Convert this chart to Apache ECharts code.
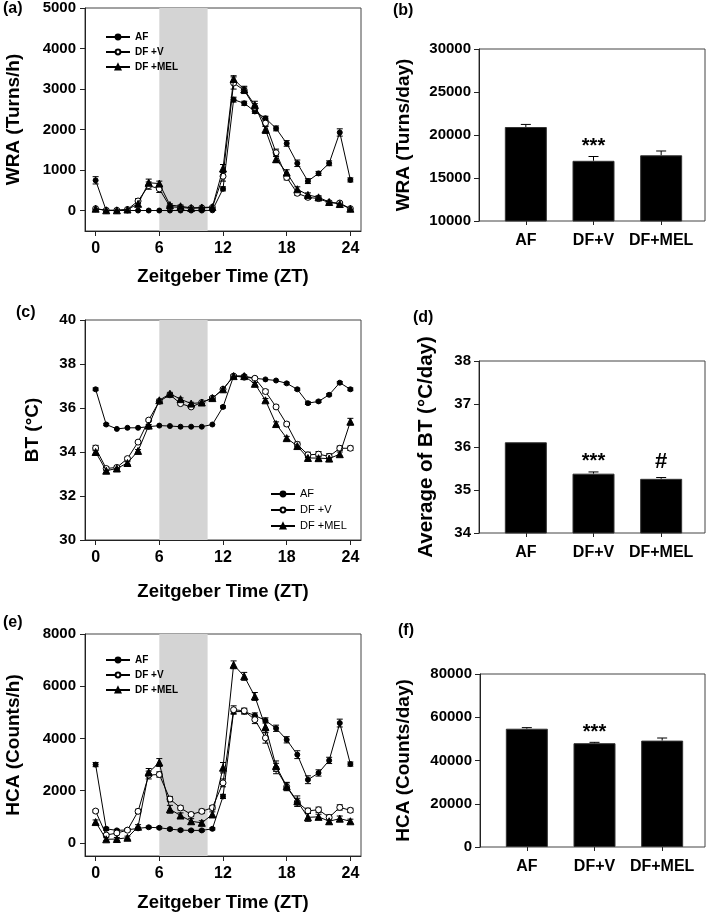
<!DOCTYPE html>
<html><head><meta charset="utf-8">
<script src="https://cdn.jsdelivr.net/npm/echarts@6.0.0/dist/echarts.min.js"></script>
<style>html,body{margin:0;padding:0;background:#fff}#c{width:709px;height:914px}</style>
</head><body><div id="c"></div>
<script>
// ---------- data ----------
const zt = [0,1,2,3,4,5,6,7,8,9,10,11,12,13,14,15,16,17,18,19,20,21,22,23,24];
const seriesNames = ['AF', 'DF +V', 'DF +MEL'];
const groups = ['AF', 'DF+V', 'DF+MEL'];

const wraAF  = [750, 5, 5, 5, 5, 5, 5, 5, 5, 5, 5, 10, 540, 2740, 2650, 2450, 2280, 2030, 1660, 1170, 730, 920, 1170, 1930, 760];
const wraDFV = [50, 10, 10, 30, 240, 620, 540, 100, 80, 60, 70, 80, 850, 3150, 2970, 2550, 2160, 1430, 820, 430, 330, 300, 200, 190, 50];
const wraMEL = [50, 10, 10, 30, 170, 690, 670, 140, 110, 70, 80, 90, 1040, 3250, 2990, 2600, 2000, 1270, 940, 530, 390, 330, 215, 165, 50];
const wraAFErr  = [90, 0, 0, 0, 0, 0, 0, 0, 0, 0, 0, 0, 50, 60, 50, 50, 50, 60, 70, 80, 60, 50, 60, 90, 50];
const wraDFVErr = [0, 0, 0, 0, 60, 90, 90, 30, 30, 20, 20, 20, 120, 150, 80, 90, 80, 90, 60, 50, 50, 40, 30, 30, 20];
const wraMELErr = [0, 0, 0, 0, 60, 90, 60, 30, 30, 20, 20, 20, 100, 80, 80, 100, 90, 80, 70, 60, 50, 40, 30, 30, 20];

const btAF  = [36.85, 35.25, 35.05, 35.1, 35.1, 35.15, 35.2, 35.18, 35.15, 35.15, 35.15, 35.25, 36.05, 37.45, 37.45, 37.35, 37.3, 37.25, 37.12, 36.85, 36.22, 36.3, 36.6, 37.15, 36.85];
const btDFV = [34.18, 33.25, 33.3, 33.7, 34.45, 35.45, 36.3, 36.6, 36.2, 36.05, 36.25, 36.45, 36.85, 37.45, 37.4, 37.35, 36.75, 36.05, 35.27, 34.35, 33.87, 33.9, 33.8, 34.17, 34.17];
const btMEL = [34.0, 33.15, 33.25, 33.5, 34.05, 35.2, 36.35, 36.65, 36.4, 36.2, 36.25, 36.45, 36.85, 37.45, 37.45, 37.1, 36.35, 35.27, 34.63, 34.27, 33.73, 33.72, 33.7, 33.9, 35.38];
const btAFErr  = [0.06, 0.05, 0.04, 0.04, 0.03, 0.03, 0.03, 0.03, 0.03, 0.03, 0.03, 0.03, 0.05, 0.05, 0.04, 0.04, 0.04, 0.04, 0.05, 0.05, 0.06, 0.05, 0.05, 0.05, 0.06];
const btDFVErr = [0.12, 0.08, 0.06, 0.06, 0.06, 0.05, 0.05, 0.06, 0.06, 0.06, 0.05, 0.05, 0.05, 0.05, 0.05, 0.06, 0.08, 0.08, 0.08, 0.1, 0.12, 0.12, 0.12, 0.1, 0.1];
const btMELErr = [0.1, 0.08, 0.06, 0.06, 0.06, 0.05, 0.05, 0.06, 0.06, 0.06, 0.05, 0.05, 0.06, 0.05, 0.05, 0.06, 0.08, 0.1, 0.08, 0.1, 0.1, 0.1, 0.1, 0.1, 0.15];

const hcaAF  = [3000, 540, 480, 500, 560, 600, 580, 530, 490, 480, 480, 540, 1780, 5030, 5030, 4880, 4690, 4390, 3950, 3380, 2420, 2680, 3160, 4590, 3020];
const hcaDFV = [1220, 300, 380, 490, 1210, 2600, 2620, 1680, 1340, 1090, 1210, 1350, 2300, 5100, 5060, 4720, 4020, 2850, 2150, 1560, 1230, 1270, 980, 1360, 1250];
const hcaMEL = [800, 140, 150, 200, 620, 2700, 3080, 1290, 1050, 830, 770, 1090, 2880, 6820, 6380, 5610, 4440, 2940, 2170, 1600, 980, 1000, 830, 930, 830];
const hcaAFErr  = [80, 60, 40, 40, 40, 40, 40, 40, 40, 40, 40, 40, 80, 100, 100, 100, 100, 120, 120, 150, 150, 120, 120, 150, 80];
const hcaDFVErr = [60, 60, 60, 60, 80, 150, 100, 100, 80, 80, 80, 80, 150, 150, 100, 150, 200, 200, 150, 150, 100, 100, 100, 100, 80];
const hcaMELErr = [80, 60, 60, 60, 80, 150, 150, 150, 100, 100, 80, 100, 200, 150, 150, 150, 200, 200, 150, 200, 150, 100, 100, 100, 80];

const wraDay = [20930, 17000, 17640];
const wraDayErr = [300, 500, 500];
const btDay = [36.11, 35.38, 35.26];
const btDayErr = [0, 0.04, 0.03];
const hcaDay = [54700, 48000, 49200];
const hcaDayErr = [500, 400, 1200];
const sigWra = ['', '***', ''];
const sigBt = ['', '***', '#'];
const sigHca = ['', '***', ''];

const ztTicks = [0, 6, 12, 18, 24];
const wraTicks = [0, 1000, 2000, 3000, 4000, 5000];
const hcaTicks = [0, 2000, 4000, 6000, 8000];
const darkPhase = [6, 10.55];

// ---------- styles ----------
const FONT = '"Liberation Sans", Arial, sans-serif';
const AX = '#222';
const grids = [
  {left: 85, top: 8, width: 276, height: 223},     // 0 a
  {left: 479, top: 49, width: 226, height: 172},   // 1 b frame
  {left: 492, top: 49, width: 203, height: 172},   // 2 b bars
  {left: 85, top: 320, width: 276, height: 220},   // 3 c
  {left: 479, top: 361, width: 226, height: 172},  // 4 d frame
  {left: 492, top: 361, width: 203, height: 172},  // 5 d bars
  {left: 85, top: 634, width: 276, height: 222},   // 6 e
  {left: 480, top: 674, width: 225, height: 173},  // 7 f frame
  {left: 493, top: 674, width: 203, height: 173}   // 8 f bars
].map((g, i) => Object.assign({show: [0,1,3,4,6,7].includes(i), borderColor: '#444', borderWidth: 1, backgroundColor: 'transparent'}, g));

const xAxes = [], yAxes = [], series = [];
const lbl = (size) => ({fontFamily: FONT, fontWeight: 'bold', fontSize: size, color: '#000'});
const plain = (v) => String(v);

function errorSeries(xi, yi, vals, errs, z) {
  return {type: 'custom', xAxisIndex: xi, yAxisIndex: yi, z: z, silent: true, animation: false,
    data: vals.map((v, j) => [zt[j], v, errs[j]]),
    renderItem: (params, api) => {
      const e = api.value(2);
      if (!e) return null;
      const lo = api.coord([api.value(0), api.value(1) - e]);
      const hi = api.coord([api.value(0), api.value(1) + e]);
      if (Math.abs(lo[1] - hi[1]) < 2) return null;
      const st = {stroke: '#000', lineWidth: 1};
      return {type: 'group', children: [
        {type: 'line', shape: {x1: lo[0], y1: lo[1], x2: hi[0], y2: hi[1]}, style: st},
        {type: 'line', shape: {x1: hi[0] - 3, y1: hi[1], x2: hi[0] + 3, y2: hi[1]}, style: st},
        {type: 'line', shape: {x1: lo[0] - 3, y1: lo[1], x2: lo[0] + 3, y2: lo[1]}, style: st}
      ]};
    }};
}

function lineChart(gi, arrs, errArrs, yCfg, nameGapX, nameGapY) {
  const xi = xAxes.length, yi = yAxes.length;
  xAxes.push({type: 'value', gridIndex: gi, min: -1, max: 25,
    axisLine: {show: true, onZero: false, lineStyle: {color: AX, width: 1}},
    axisTick: {show: true, customValues: ztTicks, length: 5, lineStyle: {color: AX}},
    axisLabel: Object.assign({customValues: ztTicks, margin: 10, formatter: plain}, lbl(16)),
    splitLine: {show: false},
    name: 'Zeitgeber Time (ZT)', nameLocation: 'middle', nameGap: nameGapX, nameTextStyle: lbl(18.5)});
  const ya = {type: 'value', gridIndex: gi, min: yCfg.min, max: yCfg.max,
    axisLine: {show: true, onZero: false, lineStyle: {color: AX, width: 1}},
    axisTick: {show: true, length: 5, lineStyle: {color: AX}},
    axisLabel: Object.assign({margin: 9, formatter: plain}, lbl(15)),
    splitLine: {show: false},
    name: yCfg.name, nameLocation: 'middle', nameRotate: 90, nameGap: nameGapY, nameTextStyle: lbl(19)};
  if (yCfg.ticks) { ya.axisTick.customValues = yCfg.ticks; ya.axisLabel.customValues = yCfg.ticks; }
  else { ya.interval = yCfg.interval; }
  yAxes.push(ya);
  series.push({type: 'line', xAxisIndex: xi, yAxisIndex: yi, data: [], z: 1, silent: true,
    markArea: {silent: true, itemStyle: {color: '#d4d4d4'}, data: [[{xAxis: darkPhase[0]}, {xAxis: darkPhase[1]}]]}});
  const sty = [
    {symbol: 'circle', symbolSize: 5, itemStyle: {color: '#000', borderColor: '#000', borderWidth: 1}},
    {symbol: 'circle', symbolSize: 6, itemStyle: {color: '#fff', borderColor: '#000', borderWidth: 1}},
    {symbol: 'triangle', symbolSize: 7, itemStyle: {color: '#000', borderColor: '#000', borderWidth: 1}}
  ];
  arrs.forEach((a, k) => {
    series.push(errorSeries(xi, yi, a, errArrs[k], 2));
    series.push(Object.assign({type: 'line', name: seriesNames[k], xAxisIndex: xi, yAxisIndex: yi, z: 3 + k,
      data: zt.map((t, j) => [t, a[j]]), lineStyle: {color: '#000', width: 1}, showAllSymbol: true,
      animation: false}, sty[k]));
  });
}

function barChart(gFrame, gBars, vals, errs, sig, yCfg, sigDist, nameGapY, nameSize) {
  xAxes.push({type: 'value', gridIndex: gFrame, show: false, min: 0, max: 1});
  yAxes.push({type: 'value', gridIndex: gFrame, min: yCfg.min, max: yCfg.max, interval: yCfg.interval,
    axisLine: {show: true, onZero: false, lineStyle: {color: AX}},
    axisTick: {show: true, length: 5, lineStyle: {color: AX}},
    axisLabel: Object.assign({margin: 8, formatter: plain}, lbl(15)), splitLine: {show: false},
    name: yCfg.name, nameLocation: 'middle', nameRotate: 90, nameGap: nameGapY, nameTextStyle: lbl(nameSize)});
  const xi = xAxes.length, yi = yAxes.length;
  xAxes.push({type: 'category', gridIndex: gBars, data: groups,
    axisLine: {show: false}, axisTick: {show: true, alignWithLabel: true, length: 4, lineStyle: {color: AX}},
    axisLabel: Object.assign({margin: 12, interval: 0}, lbl(16))});
  yAxes.push({type: 'value', gridIndex: gBars, show: false, min: yCfg.min, max: yCfg.max, splitLine: {show: false}});
  series.push({type: 'bar', xAxisIndex: xi, yAxisIndex: yi, barWidth: 42, z: 2,
    itemStyle: {color: '#000', borderColor: '#333', borderWidth: 1},
    data: vals.map((v, i) => ({value: v, label: {show: !!sig[i], position: 'top', distance: sigDist[i],
      formatter: () => sig[i], fontFamily: FONT, fontWeight: 'bold', fontSize: sig[i] === '#' ? 22 : 20, color: '#000'}})),
    animation: false});
  series.push({type: 'custom', xAxisIndex: xi, yAxisIndex: yi, z: 1, silent: true,
    data: vals.map((v, i) => [i, v, v + errs[i]]),
    renderItem: (params, api) => {
      const p0 = api.coord([api.value(0), api.value(1)]);
      const p1 = api.coord([api.value(0), api.value(2)]);
      if (Math.abs(p0[1] - p1[1]) < 0.5) return null;
      const st = {stroke: '#000', lineWidth: 1};
      return {type: 'group', children: [
        {type: 'line', shape: {x1: p0[0], y1: p0[1], x2: p1[0], y2: p1[1]}, style: st},
        {type: 'line', shape: {x1: p1[0] - 5, y1: p1[1], x2: p1[0] + 5, y2: p1[1]}, style: st}
      ]};
    }, animation: false});
}

lineChart(0, [wraAF, wraDFV, wraMEL], [wraAFErr, wraDFVErr, wraMELErr], {min: -500, max: 5000, ticks: wraTicks, name: 'WRA (Turns/h)'}, 36, 62);
barChart(1, 2, wraDay, wraDayErr, sigWra, {min: 10000, max: 30000, interval: 5000, name: 'WRA (Turns/day)'}, [0, 4, 0], 66, 19);
lineChart(3, [btAF, btDFV, btMEL], [btAFErr, btDFVErr, btMELErr], {min: 30, max: 40, interval: 2, name: 'BT (°C)'}, 42, 43);
barChart(4, 5, btDay, btDayErr, sigBt, {min: 34, max: 38, interval: 1, name: 'Average of BT (°C/day)'}, [0, 2, 6], 42, 20.5);
lineChart(6, [hcaAF, hcaDFV, hcaMEL], [hcaAFErr, hcaDFVErr, hcaMELErr], {min: -500, max: 8000, ticks: hcaTicks, name: 'HCA (Counts/h)'}, 37, 62);
barChart(7, 8, hcaDay, hcaDayErr, sigHca, {min: 0, max: 80000, interval: 20000, name: 'HCA (Counts/day)'}, [0, 1, 0], 67, 19);

const legendBase = {orient: 'vertical', itemWidth: 24, itemHeight: 6, itemGap: 3, data: seriesNames,
  selectedMode: false, textStyle: {fontFamily: FONT, fontSize: 10, fontWeight: 'bold', color: '#000', lineHeight: 12}};
const legends = [
  Object.assign({}, legendBase, {left: 100, top: 26}),
  Object.assign({}, legendBase, {left: 265, top: 483, itemGap: 4, textStyle: {fontFamily: FONT, fontSize: 11, color: '#000', lineHeight: 12}}),
  Object.assign({}, legendBase, {left: 100, top: 649})
];

const panelLabels = [['(a)', 3, 1], ['(b)', 393, 3], ['(c)', 16, 305], ['(d)', 413, 310], ['(e)', 3, 615], ['(f)', 398, 623]];

const chart = echarts.init(document.getElementById('c'), null, {renderer: 'canvas'});
chart.setOption({
  animation: false,
  backgroundColor: '#fff',
  grid: grids, xAxis: xAxes, yAxis: yAxes, series: series, legend: legends,
  graphic: panelLabels.map(p => ({type: 'text', left: p[1], top: p[2],
    style: {text: p[0], fontFamily: FONT, fontWeight: 'bold', fontSize: 16, fill: '#000'}}))
});
</script>
</body></html>
